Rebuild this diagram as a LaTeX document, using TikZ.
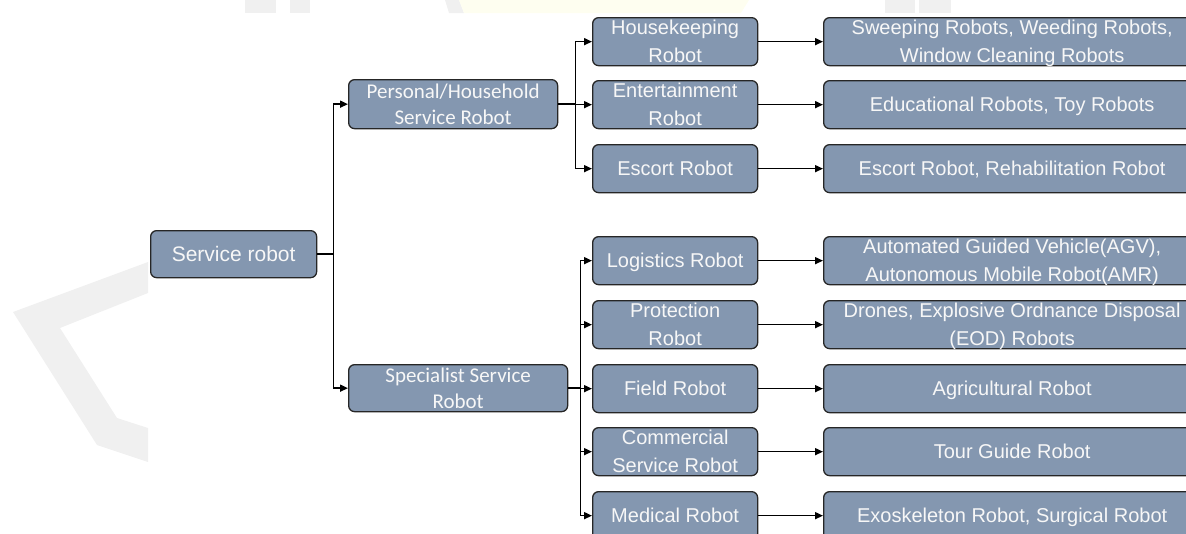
\documentclass[tikz,border=0pt]{standalone}
\usepackage{fontspec}
\setmainfont{Liberation Sans}
\newfontfamily\calib{Carlito}
\usetikzlibrary{arrows.meta}
\definecolor{boxfill}{HTML}{8497B0}
\definecolor{boxline}{HTML}{262626}
\definecolor{wmgray}{HTML}{F0F0F0}
\definecolor{wmyellow}{HTML}{FEFEF0}
\definecolor{txt}{HTML}{F7F7F7}
\begin{document}
\begin{tikzpicture}[x=1pt,y=-1pt,
  box/.style={draw=boxline, line width=1.3pt, fill=boxfill, rounded corners=6pt,
    anchor=north west, inner sep=0pt, align=center, text=txt, text depth=0pt,
    font=\fontsize{20}{28}\selectfont, minimum height=48pt},
  lvtwo/.style={box, minimum width=165pt},
  lvthree/.style={box, minimum width=377pt},
  arr/.style={draw=black, line width=1.6pt, -{Triangle[length=8pt,width=7pt]}},
]
\useasboundingbox (0,0) rectangle (1186,533);
\clip (0,0) rectangle (1186,533);
% faint watermark remnants
\fill[wmgray] (148,262) -- (13,312) -- (97,445) -- (148,462) -- (148,428) -- (117,418) -- (60,328) -- (148,293) -- cycle;
\fill[wmgray] (245,0) rectangle (276,13);
\fill[wmgray] (290,0) rectangle (310,13);
\fill[wmgray] (445,0) -- (459,0) -- (464,13) -- (449,13) -- cycle;
\fill[wmyellow] (459,0) -- (749,0) -- (741,13) -- (464,13) -- cycle;
\fill[wmgray] (885,0) rectangle (915,13);
\fill[wmgray] (919,0) rectangle (951,13);

% level 0 and 1
\node[box, minimum width=166pt, minimum height=47pt, font=\fontsize{21}{25}\selectfont] (sr) at (150,230) {Service robot};
\node[box, minimum width=209pt, minimum height=49pt, font=\calib\fontsize{21}{26}\selectfont] (phs) at (348,79) {Personal/Household\\Service Robot};
\node[box, minimum width=219pt, minimum height=47pt, font=\calib\fontsize{21}{26}\selectfont] (ssr) at (348,364) {Specialist Service\\Robot};

% level 2
\node[lvtwo] (hk)  at (592,17)  {Housekeeping\\Robot};
\node[lvtwo] (ent) at (592,80)  {Entertainment\\Robot};
\node[lvtwo] (esc) at (592,144) {Escort Robot};
\node[lvtwo] (log) at (592,236) {Logistics Robot};
\node[lvtwo] (pro) at (592,300) {Protection\\Robot};
\node[lvtwo] (fld) at (592,364) {Field Robot};
\node[lvtwo] (com) at (592,427) {Commercial\\Service Robot};
\node[lvtwo] (med) at (592,491) {Medical Robot};

% level 3
\node[lvthree] (hkx)  at (823,17)  {Sweeping Robots, Weeding Robots,\\Window Cleaning Robots};
\node[lvthree] (entx) at (823,80)  {Educational Robots, Toy Robots};
\node[lvthree] (escx) at (823,144) {Escort Robot, Rehabilitation Robot};
\node[lvthree] (logx) at (823,236) {Automated Guided Vehicle(AGV),\\Autonomous Mobile Robot(AMR)};
\node[lvthree] (prox) at (823,300) {Drones, Explosive Ordnance Disposal\\(EOD) Robots};
\node[lvthree] (fldx) at (823,364) {Agricultural Robot};
\node[lvthree] (comx) at (823,427) {Tour Guide Robot};
\node[lvthree] (medx) at (823,491) {Exoskeleton Robot, Surgical Robot};

% connectors
\draw[arr] (sr.east) -- ++(16,0) |- (phs.west);
\draw[arr] (sr.east) -- ++(16,0) |- (ssr.west);
\foreach \n in {hk,ent,esc} \draw[arr] (phs.east) -- ++(17,0) |- (\n.west);
\foreach \n in {log,pro,fld,com,med} \draw[arr] (ssr.east) -- ++(12,0) |- (\n.west);
\foreach \n in {hk,ent,esc,log,pro,fld,com,med} \draw[arr] (\n.east) -- (\n x.west);
\end{tikzpicture}
\end{document}
